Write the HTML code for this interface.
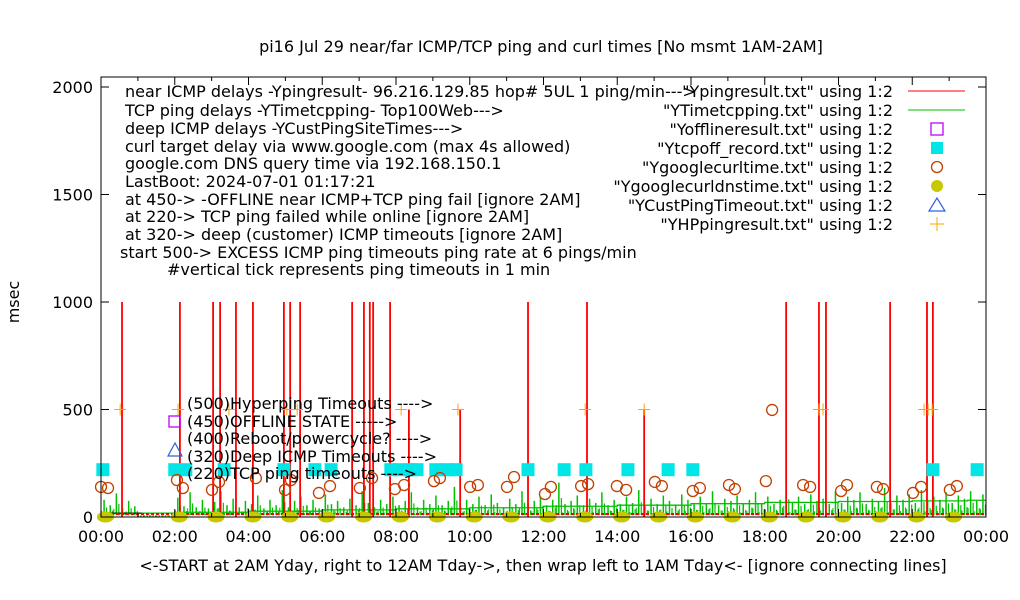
<!DOCTYPE html>
<html><head><meta charset="utf-8"><style>
body{margin:0;background:#fff}
svg{display:block}
text{font-family:"DejaVu Sans","Liberation Sans",sans-serif;font-size:16px;fill:#000}
</style></head><body>
<svg id="c" width="1020" height="600">
<text x="541" y="52" text-anchor="middle">pi16 Jul 29  near/far ICMP/TCP ping and curl times [No msmt 1AM-2AM]</text>
<text x="19" y="302" transform="rotate(-90 19 302)" text-anchor="middle">msec</text>
<text x="543" y="571" text-anchor="middle">&lt;-START at 2AM Yday, right to 12AM Tday-&gt;, then wrap left to 1AM Tday&lt;- [ignore connecting lines]</text>
<g id="marks"></g>
<g id="axes"></g>
<g>
<text x="125" y="97">near ICMP delays -Ypingresult- 96.216.129.85 hop# 5UL 1 ping/min---&gt;</text>
<text x="125" y="116">TCP ping delays -YTimetcpping- Top100Web---&gt;</text>
<text x="125" y="134">deep ICMP delays -YCustPingSiteTimes---&gt;</text>
<text x="125" y="152">curl target delay via www.google.com (max 4s allowed)</text>
<text x="125" y="169">google.com DNS query time via 192.168.150.1</text>
<text x="125" y="187">LastBoot: 2024-07-01 01:17:21</text>
<text x="125" y="205">at 450-&gt; -OFFLINE near ICMP+TCP ping fail [ignore 2AM]</text>
<text x="125" y="222">at 220-&gt; TCP ping failed while online [ignore 2AM]</text>
<text x="125" y="240">at 320-&gt; deep (customer) ICMP timeouts [ignore 2AM]</text>
<text x="120" y="258">start 500-&gt; EXCESS ICMP ping timeouts ping rate at 6 pings/min</text>
<text x="167" y="275">#vertical tick represents ping timeouts in 1 min</text>
</g>
<g>
<text x="187" y="409">(500)Hyperping Timeouts ----&gt;</text>
<text x="187" y="427">(450)OFFLINE STATE -----&gt;</text>
<text x="187" y="444">(400)Reboot/powercycle? ----&gt;</text>
<text x="187" y="462">(320)Deep ICMP Timeouts ----&gt;</text>
<text x="187" y="479">(220)TCP ping timeouts ----&gt;</text>
</g>
<g id="legend"></g>
</svg>
<script>
const redHours=[0.57,2.14,3.04,3.23,3.66,4.12,4.96,5.13,5.40,6.81,7.13,7.29,7.38,7.84,8.35,9.74,11.58,13.18,14.73,18.58,19.47,19.66,21.40,22.40,22.56];
const redValues=[1000,1000,1000,1000,1000,1000,1000,1000,1000,1000,1000,1000,1000,1000,500,500,1000,1000,500,1000,1000,1000,1000,1000,1000];
const tcpNoise=[80,55,110,40,75,50,0,0,0,0,0,0,90,50,115,45,80,40,70,120,55,85,45,75,60,100,40,80,55,125,45,75,95,55,80,40,105,60,75,45,85,55,120,65,45,80,60,95,55,75,115,45,80,60,100,55,75,140,45,80,60,95,55,105,65,45,85,60,120,55,75,95,55,80,160,60,75,100,55,85,65,115,55,80,60,95,65,125,55,85,60,100,75,55,105,80,60,95,65,120,55,85,75,100,60,80,115,65,95,60,80,150,65,95,60,105,75,85,60,120,65,95,80,115,60,85,75,135,65,100,80,105,65,125,75,95,80,115,65,100,85,120,75,105];
const stepHours=[0,2,4,6,8,10,12,14,16,18,20,22,23.5,24];
const stepValues=[18,22,27,33,38,43,50,55,62,68,72,75,78,78];
const tcpOffHours=[0.05,2.0,2.3,3.34,4.96,5.8,6.24,7.86,8.1,8.38,8.57,9.08,9.38,9.63,11.58,12.56,13.15,14.29,15.38,16.05,22.56,23.76];
const curlHours=[0.00,0.19,2.06,2.22,3.01,3.20,4.20,4.99,5.15,5.91,6.21,7.02,7.35,7.97,8.22,9.03,9.19,10.01,10.22,11.01,11.20,12.04,12.20,13.02,13.21,13.99,14.24,15.02,15.21,16.05,16.24,17.03,17.19,18.03,18.20,19.04,19.23,20.07,20.23,21.04,21.21,22.02,22.24,23.02,23.21];
const curlValues=[140,135,172,135,126,163,181,126,172,112,144,135,181,130,149,167,181,140,149,140,186,107,140,144,153,144,126,163,144,121,135,149,130,167,498,149,140,121,149,140,130,112,140,126,144];
const dnsHours=[0,2,3,4,5,6,7,8,9,10,11,12,13,14,15,16,17,18,19,20,21,22,23];
const hpHours=[0.52,2.09,3.47,5.04,5.32,8.14,9.68,13.13,14.73,19.47,19.58,22.32,22.43,22.54];
const xTicks=["00:00","02:00","04:00","06:00","08:00","10:00","12:00","14:00","16:00","18:00","20:00","22:00","00:00"];
const yTicks=[0,500,1000,1500,2000];

const L=101,R=986,T=77,B=517;
const X=h=>L+h*(R-L)/24, Y=v=>B-v*(B-87)/2000;
const NS="http://www.w3.org/2000/svg";
function mk(tag,attrs,parent){const e=document.createElementNS(NS,tag);for(const k in attrs)e.setAttribute(k,attrs[k]);parent.appendChild(e);return e;}
const M=document.getElementById('marks'),A=document.getElementById('axes'),LG=document.getElementById('legend');

tcpNoise.forEach((v,i)=>{const h=i/6+1/12;
 const e=mk('line',{x1:X(h),x2:X(h),y1:Y(8),y2:Y(v),stroke:'#00c000','stroke-width':1.5},M);
 
 
 const e2=mk('line',{x1:X(h)+2.5,x2:X(h)+2.5,y1:Y(8),y2:Y(v*0.55),stroke:'#00c000','stroke-width':1.2},M);
 
 
 const e3=mk('line',{x1:X(h)-2.5,x2:X(h)-2.5,y1:Y(8),y2:Y(v*0.35),stroke:'#00c000','stroke-width':1},M);
 
 
});
let sp='';stepHours.forEach((h,i)=>{sp+=(i?'L':'M')+X(h)+','+Y(stepValues[i])+(i<stepHours.length-1?' L'+X(stepHours[i+1])+','+Y(stepValues[i]):'');});
const st=mk('path',{d:sp,fill:'none',stroke:'#00c000','stroke-width':1.3},M);


const bl=mk('line',{x1:X(0),x2:X(1.1),y1:Y(18),y2:Y(18),stroke:'#000','stroke-width':1},M);


const rb=mk('line',{x1:X(0),x2:X(24),y1:Y(14),y2:Y(14),stroke:'#f00','stroke-width':2,'stroke-dasharray':'3 2'},M);


redHours.forEach((h,i)=>{const e=mk('line',{x1:X(h),x2:X(h),y1:Y(0),y2:Y(redValues[i]),stroke:'#f00','stroke-width':1.8},M);
 
 });
tcpOffHours.forEach(h=>{const e=mk('rect',{x:X(h)-6.5,y:Y(220)-6.5,width:13,height:13,fill:'#00e5e5'},M);
 
 });
curlHours.forEach((h,i)=>{const e=mk('circle',{cx:X(h),cy:Y(curlValues[i]),r:5.5,fill:'none',stroke:'#c04000','stroke-width':1.3},M);
 
 });
dnsHours.forEach(h=>{const e=mk('ellipse',{cx:X(h+0.12),cy:Y(0),rx:8.5,ry:5.5,fill:'#c8c800'},M);
 
 });
hpHours.forEach(h=>{const e=mk('path',{d:`M${X(h)-6},${Y(500)}h12M${X(h)},${Y(500)-6}v12`,stroke:'#ffa500','stroke-width':1},M);
 
 });
const om=mk('rect',{x:169,y:416,width:11,height:11,fill:'none',stroke:'#c000ff','stroke-width':1.3},M);


const tm=mk('path',{d:'M168,456 L182,456 L175,443 Z',fill:'none',stroke:'#3060e0','stroke-width':1.2},M);



const fr=mk('rect',{x:L,y:T,width:R-L,height:B-T,fill:'none',stroke:'#000','stroke-width':1},A);


yTicks.forEach(v=>{mk('path',{d:`M${L},${Y(v)}h8M${R},${Y(v)}h-8`,stroke:'#000'},A);
 const t=mk('text',{x:L-8,y:Y(v)+6,'text-anchor':'end'},A);t.textContent=v;
 
 });
xTicks.forEach((s,i)=>{const x=X(i*2);mk('path',{d:`M${x},${B}v-8M${x},${T}v8`,stroke:'#000'},A);
 if(i<12)mk('path',{d:`M${X(i*2+1)},${B}v-4M${X(i*2+1)},${T}v4`,stroke:'#000'},A);
 const t=mk('text',{x:x,y:B+25,'text-anchor':'middle'},A);t.textContent=s;
 
 });

const names=['"Ypingresult.txt" using 1:2','"YTimetcpping.txt" using 1:2','"Yofflineresult.txt" using 1:2','"Ytcpoff_record.txt" using 1:2','"Ygooglecurltime.txt" using 1:2','"Ygooglecurldnstime.txt" using 1:2','"YCustPingTimeout.txt" using 1:2','"YHPpingresult.txt" using 1:2'];
names.forEach((n,i)=>{const y=91+i*19;const t=mk('text',{x:893,y:y+6,'text-anchor':'end'},LG);t.textContent=n;
 
 
 const cx=937;
 if(i==0)mk('line',{x1:908,x2:965,y1:y,y2:y,stroke:'#f00'},LG);
 if(i==1)mk('line',{x1:908,x2:965,y1:y,y2:y,stroke:'#00c000'},LG);
 if(i==2)mk('rect',{x:cx-6,y:y-6,width:12,height:12,fill:'none',stroke:'#c000ff','stroke-width':1.3},LG);
 if(i==3)mk('rect',{x:cx-6,y:y-6,width:12,height:12,fill:'#00e5e5'},LG);
 if(i==4)mk('circle',{cx:cx,cy:y,r:5.5,fill:'none',stroke:'#c04000','stroke-width':1.3},LG);
 if(i==5)mk('circle',{cx:cx,cy:y,r:6,fill:'#c8c800'},LG);
 if(i==6)mk('path',{d:`M${cx-8},${y+6}h16l-8,-13z`,fill:'none',stroke:'#3060e0','stroke-width':1.2},LG);
 if(i==7)mk('path',{d:`M${cx-7},${y}h14M${cx},${y-7}v14`,stroke:'#ffa500'},LG);
});
</script>
</body></html>
